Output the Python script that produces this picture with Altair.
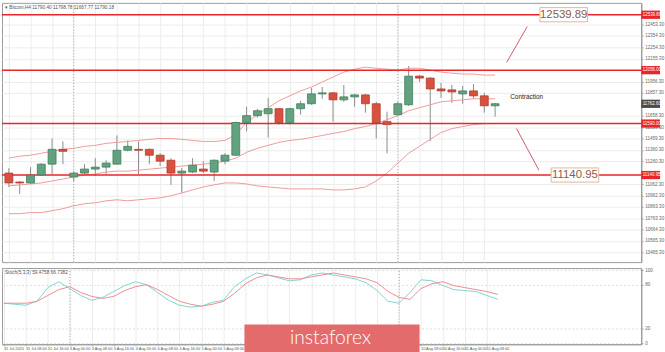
import json
import altair as alt
import pandas as pd

# ---------------- data ----------------
opens = [11158, 11080, 11072, 11141, 11236, 11365, 11124, 11158, 11193, 11210,
         11236, 11357, 11365, 11365, 11314, 11270, 11158, 11167, 11193, 11167,
         11262, 11314, 11599, 11659, 11676, 11720, 11599, 11720, 11763, 11849,
         11858, 11797, 11823, 11840, 11763, 11607, 11668, 11754, 12004, 11987,
         11892, 11884, 11849, 11875, 11832, 11745]
highs = [11201, 11089, 11210, 11244, 11460, 11435, 11175, 11236, 11288, 11270,
         11486, 11443, 11435, 11374, 11331, 11288, 11201, 11288, 11262, 11279,
         11331, 11607, 11737, 11719, 11814, 11728, 11728, 11789, 11901, 11909,
         11866, 11927, 11849, 11849, 11780, 11694, 11780, 12091, 12013, 11996,
         11944, 11927, 11918, 11935, 11858, 11771]
lows = [11037, 10976, 11063, 11132, 11150, 11236, 11089, 11150, 11132, 11150,
        11236, 11348, 11150, 11236, 11219, 11055, 10985, 11158, 11158, 11089,
        11236, 11305, 11521, 11642, 11469, 11581, 11581, 11668, 11754, 11806,
        11607, 11780, 11737, 11685, 11460, 11331, 11659, 11745, 11953, 11435,
        11814, 11771, 11763, 11806, 11685, 11650]
closes = [11072, 11072, 11141, 11236, 11365, 11348, 11158, 11193, 11210, 11245,
          11357, 11391, 11357, 11314, 11262, 11158, 11175, 11227, 11175, 11270,
          11314, 11599, 11659, 11702, 11720, 11599, 11720, 11763, 11849, 11858,
          11797, 11823, 11840, 11763, 11599, 11581, 11763, 12004, 11987, 11892,
          11875, 11866, 11875, 11832, 11745, 11763]

bb_upper = [11288, 11305, 11314, 11331, 11348, 11365, 11374, 11391, 11400, 11417,
            11426, 11434, 11443, 11452, 11460, 11460, 11452, 11443, 11434, 11434,
            11443, 11495, 11599, 11668, 11728, 11789, 11832, 11875, 11909, 11953,
            11996, 12039, 12065, 12082, 12073, 12065, 12056, 12073, 12073, 12056,
            12039, 12030, 12022, 12022, 12013, 12013]
bb_mid = [11046, 11055, 11063, 11072, 11089, 11106, 11124, 11141, 11150, 11167,
          11175, 11175, 11184, 11192, 11201, 11210, 11219, 11227, 11236, 11245,
          11262, 11288, 11339, 11374, 11400, 11426, 11443, 11452, 11469, 11486,
          11504, 11521, 11546, 11564, 11590, 11624, 11659, 11702, 11728, 11754,
          11780, 11789, 11797, 11806, 11806, 11806]
bb_lower = [10804, 10804, 10813, 10813, 10830, 10847, 10873, 10890, 10899, 10916,
            10925, 10916, 10925, 10934, 10942, 10960, 10985, 11011, 11037, 11055,
            11072, 11072, 11063, 11046, 11037, 11029, 11020, 11020, 11020, 11020,
            11011, 11011, 11020, 11037, 11089, 11158, 11245, 11331, 11391, 11452,
            11512, 11546, 11564, 11581, 11590, 11590]

stoch_k = [54.7, 53.3, 52, 57.3, 76, 84, 74.7, 65.3, 58.7, 62.7,
           70.7, 78.7, 84, 80, 69.3, 58.7, 52, 49.3, 50.7, 56,
           58.7, 77.3, 88, 96, 93.3, 89.3, 85.3, 86.7, 93.3, 96,
           93.3, 90.7, 88, 82.7, 72, 57.3, 54.7, 69.3, 86.7, 85.3,
           78.7, 73.3, 72, 70.7, 65.3, 60]
stoch_d = [54.7, 54.7, 54.7, 57.3, 65.3, 73.3, 77.3, 69.3, 64, 61.3,
           64, 72, 77.3, 80, 73.3, 65.3, 57.3, 53.3, 50.7, 53.3,
           57.3, 68, 81.3, 89.3, 93.3, 90.7, 88, 88, 90.7, 93.3,
           96, 93.3, 90.7, 88, 82.7, 70.7, 62.7, 60, 74.7, 81.3,
           84, 78.7, 76, 73.3, 70.7, 66.7]

# time labels visible in the picture (the ones under the logo are hidden there)
time_labels = ["31 Jul 2020", "31 Jul 08:00", "31 Jul 16:00", "3 Aug 00:00", "3 Aug 08:00",
               "3 Aug 16:00", "4 Aug 00:00", "4 Aug 08:00", "4 Aug 16:00", "5 Aug 00:00",
               "5 Aug 08:00", "10 Aug 08:00", "10 Aug 16:00", "11 Aug 00:00", "11 Aug 08:00"]
time_label_pos = [1, 3, 5, 7, 9, 11, 13, 15, 17, 19, 21, 39, 41, 43, 45]
grid_pos = list(range(1, 46, 2))

price_ticks = [12453.30, 12354.30, 12254.30, 12155.30, 11956.30, 11857.30, 11658.30,
               11559.30, 11459.30, 11360.30, 11260.30, 11062.30, 10962.30, 10863.30,
               10763.30, 10664.30, 10565.30, 10465.30]
stoch_ticks = [0, 20, 80, 100]

level_prices = [12539.89, 12056.00, 11590.00, 11140.95]
current_price = [11762.60]
separators = [7, 37]

ann_labels = ["12539.89", "11140.95"]
ann_x = [52.35, 53.39]
ann_price = [12539.89, 11140.95]
ptr_x0 = [47.08, 47.98]
ptr_y0 = [12125, 11547]
ptr_x1 = [48.97, 50.05]
ptr_y1 = [12436, 11184]
note_text = ["Contraction"]
note_x = [47.4]
note_price = [11823]

# ---------------- frames ----------------
n = len(opens)
df = pd.DataFrame(dict(i=list(range(1, n + 1)), o=opens, h=highs, l=lows, c=closes,
                       bu=bb_upper, bm=bb_mid, bl=bb_lower, k=stoch_k, d=stoch_d))
lev = pd.DataFrame(dict(price=level_prices))
lev["lo"] = lev.price - 36
lev["hi"] = lev.price + 36
lev["label"] = [f"{p:.2f}" for p in level_prices]
cur = pd.DataFrame(dict(price=current_price))
cur["lo"] = cur.price - 36
cur["hi"] = cur.price + 36
cur["label"] = [f"{p:.2f}" for p in current_price]
sep = pd.DataFrame(dict(i=separators))
ann = pd.DataFrame(dict(label=ann_labels, x=ann_x, price=ann_price))
ann["x0"] = ann.x - 2.2
ann["x1"] = ann.x + 2.2
ann["y0"] = ann.price - 62
ann["y1"] = ann.price + 62
ptr = pd.DataFrame(dict(x0=ptr_x0, y0=ptr_y0, x1=ptr_x1, y1=ptr_y1))
note = pd.DataFrame(dict(t=note_text, x=note_x, price=note_price))
tl = pd.DataFrame(dict(i=time_label_pos, t=time_labels))

W = 646
H_MAIN = 262
H_STO = 77
xs = alt.Scale(domain=[0.82, 59.07], nice=False, zero=False)
ys = alt.Scale(domain=[10381, 12643.5], nice=False, zero=False)
ys2 = alt.Scale(domain=[-1.3, 102.7], nice=False, zero=False)

GRID = "#ececec"
ax_x_main = alt.Axis(values=grid_pos, labels=False, ticks=False, domain=False,
                     grid=True, gridColor=GRID, title=None)
ax_y_main = alt.Axis(orient="right", values=price_ticks, format=".2f", labelFontSize=4.6,
                     labelColor="#666", labelPadding=1.5, tickSize=2, tickColor="#aaa",
                     domainColor="#999", grid=True, gridColor=GRID, title=None,
                     labelOverlap=False)


def XM(f):
    return alt.X(f"{f}:Q", scale=xs, axis=ax_x_main, title=None)


def YM(f):
    return alt.Y(f"{f}:Q", scale=ys, axis=ax_y_main, title=None)


base = alt.Chart(df)
up_cond = "datum.c >= datum.o"

wicks = base.mark_rule(color="#8c8c8c", strokeWidth=1).encode(x=XM("i"), y=YM("l"), y2="h")
bodies = base.mark_bar(size=8, strokeWidth=0.8).encode(
    x=XM("i"), y=YM("o"), y2="c",
    color=alt.condition(up_cond, alt.value("#63a281"), alt.value("#d9503f")),
    stroke=alt.condition(up_cond, alt.value("#3f7d5c"), alt.value("#b03a2c")),
)
band_style = dict(color="#ef9a9a", strokeWidth=1)
b_up = base.mark_line(**band_style).encode(x=XM("i"), y=YM("bu"))
b_mid = base.mark_line(**band_style).encode(x=XM("i"), y=YM("bm"))
b_low = base.mark_line(**band_style).encode(x=XM("i"), y=YM("bl"))

seps = alt.Chart(sep).mark_rule(color="#a0a0a0", strokeDash=[1, 2]).encode(x=XM("i"))
levels = alt.Chart(lev).mark_rule(color="#e8252a", strokeWidth=1.6).encode(y=YM("price"))
tags = alt.Chart(lev).mark_rect(color="#e8252a").encode(
    x=alt.value(W), x2=alt.value(W + 19), y=YM("lo"), y2="hi")
tag_txt = alt.Chart(lev).mark_text(color="white", fontSize=4.5, align="left").encode(
    x=alt.value(W + 1.5), y=YM("price"), text="label")
cur_tag = alt.Chart(cur).mark_rect(color="#4a4a4a").encode(
    x=alt.value(W), x2=alt.value(W + 19), y=YM("lo"), y2="hi")
cur_txt = alt.Chart(cur).mark_text(color="white", fontSize=4.5, align="left").encode(
    x=alt.value(W + 1.5), y=YM("price"), text="label")

pointers = alt.Chart(ptr).mark_rule(color="#cf5a6a", strokeWidth=1).encode(
    x=XM("x0"), y=YM("y0"), x2="x1", y2="y1")
boxes = alt.Chart(ann).mark_rect(fill="white", stroke="#dcb79c", strokeWidth=1).encode(
    x=XM("x0"), x2="x1", y=YM("y0"), y2="y1")
box_txt = alt.Chart(ann).mark_text(fontSize=11.5, color="#8d5b45").encode(
    x=XM("x"), y=YM("price"), text="label")
note_txt = alt.Chart(note).mark_text(fontSize=6.5, color="#222", align="left").encode(
    x=XM("x"), y=YM("price"), text="t")
title_txt = alt.Chart(pd.DataFrame(dict(t=["\u25BE Bitcoin,H4  11790.40 11798.78 11667.77 11790.18"]))).mark_text(
    fontSize=4.8, color="#555", align="left", baseline="middle").encode(
    x=alt.value(3), y=alt.value(5), text="t")

main = alt.layer(wicks, b_up, b_mid, b_low, seps, levels, bodies, tags, tag_txt, cur_tag, cur_txt,
                 pointers, boxes, box_txt, note_txt, title_txt).properties(width=W, height=H_MAIN)

# ---------------- stochastic panel ----------------
ax_x_sto = alt.Axis(values=grid_pos, labels=False, tickSize=1.5,
                    tickColor="#aaa", domainColor="#999", grid=True, gridColor=GRID,
                    title=None)
ax_y_sto = alt.Axis(orient="right", values=stoch_ticks, labelFontSize=4.6, labelColor="#666",
                    labelPadding=1.5, tickSize=2, tickColor="#aaa", domainColor="#999",
                    grid=True, gridColor="#dddddd", gridDash=[2, 2], title=None)


def XS(f):
    return alt.X(f"{f}:Q", scale=xs, axis=ax_x_sto, title=None)


def YS(f):
    return alt.Y(f"{f}:Q", scale=ys2, axis=ax_y_sto, title=None)


sbase = alt.Chart(df)
k_line = sbase.mark_line(color="#80d4d0", strokeWidth=1).encode(x=XS("i"), y=YS("k"))
d_line = sbase.mark_line(color="#f08b8f", strokeWidth=1).encode(x=XS("i"), y=YS("d"))
s_seps = alt.Chart(sep).mark_rule(color="#a0a0a0", strokeDash=[1, 2]).encode(x=XS("i"))
s_title = alt.Chart(pd.DataFrame(dict(t=["Stoch(5,3,3) 59.4758 66.7382"]))).mark_text(
    fontSize=4.8, color="#555", align="left", baseline="middle").encode(
    x=alt.value(3), y=alt.value(5), text="t")
time_txt = alt.Chart(tl).mark_text(fontSize=3.9, color="#555", align="left", baseline="top").encode(
    x=XS("i"), y=alt.value(H_STO + 3), text="t")
logo_box = alt.Chart(pd.DataFrame(dict(a=[0]))).mark_rect(color="#e46b6b").encode(
    x=alt.value(245), x2=alt.value(422), y=alt.value(57), y2=alt.value(87))
logo_txt = alt.Chart(pd.DataFrame(dict(t=["instaforex"]))).mark_text(
    color="white", fontSize=19.5, font="Lato", fontWeight=300, align="center",
    baseline="alphabetic").encode(x=alt.value(332), y=alt.value(77), text="t")

sto = alt.layer(s_seps, k_line, d_line, s_title, time_txt, logo_box, logo_txt).properties(
    width=W, height=H_STO)

chart = (
    alt.vconcat(main, sto, spacing=3)
    .properties(padding=0, background="white")
    .configure(font="Liberation Sans")
    .configure_view(stroke="#9a9a9a", strokeWidth=1)
)

chart.save("out.html", embed_options={"renderer": "svg", "actions": False})
